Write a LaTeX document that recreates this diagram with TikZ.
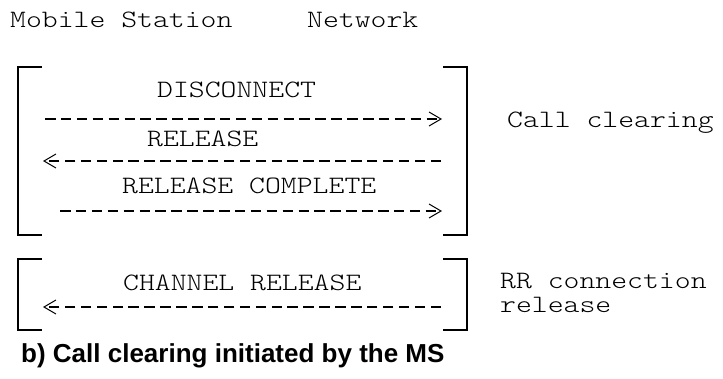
\documentclass[tikz,border=0pt]{standalone}
\usepackage{fontspec}
\setmainfont{Liberation Sans}
\newfontfamily\msgfont{lmmonolt10-regular.otf}[FakeStretch=1.21]
\usetikzlibrary{arrows.meta}

\begin{document}
\begin{tikzpicture}[
        x                   = 1pt,
        y                   = -1pt,
        every node/.style   = {inner sep=0pt, anchor=base west},
        lbl/.style          = {font=\msgfont\fontsize{25}{25}\selectfont},
        msg/.style          = {line width=1.4pt, dash pattern=on 10.5pt off 5.4pt,
                               -{Straight Barb[length=12pt, width=14pt, line width=1pt]}},
        bracket/.style      = {line width=1.5pt},
      ]
    \useasboundingbox (0,0) rectangle (723,378);
    % heading
    \node[lbl] (ms) at (10,27) {Mobile Station};
    \node[lbl] (nw) at (307,27) {Network};
    % call clearing
    \draw[bracket] (42,67) -- (18,67) -- (18,235) -- (42,235);
    \draw[bracket] (443,67) -- (467,67) -- (467,235) -- (443,235);
    \node[lbl] (disc) at (157,97) {DISCONNECT};
    \coordinate (ms1) at (45,119);
    \coordinate (nw1) at (442,119);
    \draw[msg] (ms1) -- (nw1);
    \node[lbl] (rel) at (147,146) {RELEASE};
    \coordinate (ms2) at (43,161);
    \coordinate (nw2) at (441,161);
    \draw[msg] (nw2) -- (ms2);
    \node[lbl] (relc) at (122,193) {RELEASE COMPLETE};
    \coordinate (ms3) at (60,211);
    \coordinate (nw3) at (442,211);
    \draw[msg] (ms3) -- (nw3);
    \node[lbl] (cc) at (507,127) {Call clearing};
    % rr connection release
    \draw[bracket] (42,259) -- (18,259) -- (18,330) -- (42,330);
    \draw[bracket] (443,259) -- (467,259) -- (467,330) -- (443,330);
    \node[lbl] (chrel) at (123,290) {CHANNEL RELEASE};
    \coordinate (ms4) at (43,307);
    \coordinate (nw4) at (441,307);
    \draw[msg] (nw4) -- (ms4);
    \node[lbl] (rr) at (500,288) {RR connection};
    \node[lbl] (rr2) at (500,312) {release};
    % caption
    \node[font=\bfseries\fontsize{26}{26}\selectfont] (cap) at (21,362) {b) Call clearing initiated by the MS};
\end{tikzpicture}
\end{document}
